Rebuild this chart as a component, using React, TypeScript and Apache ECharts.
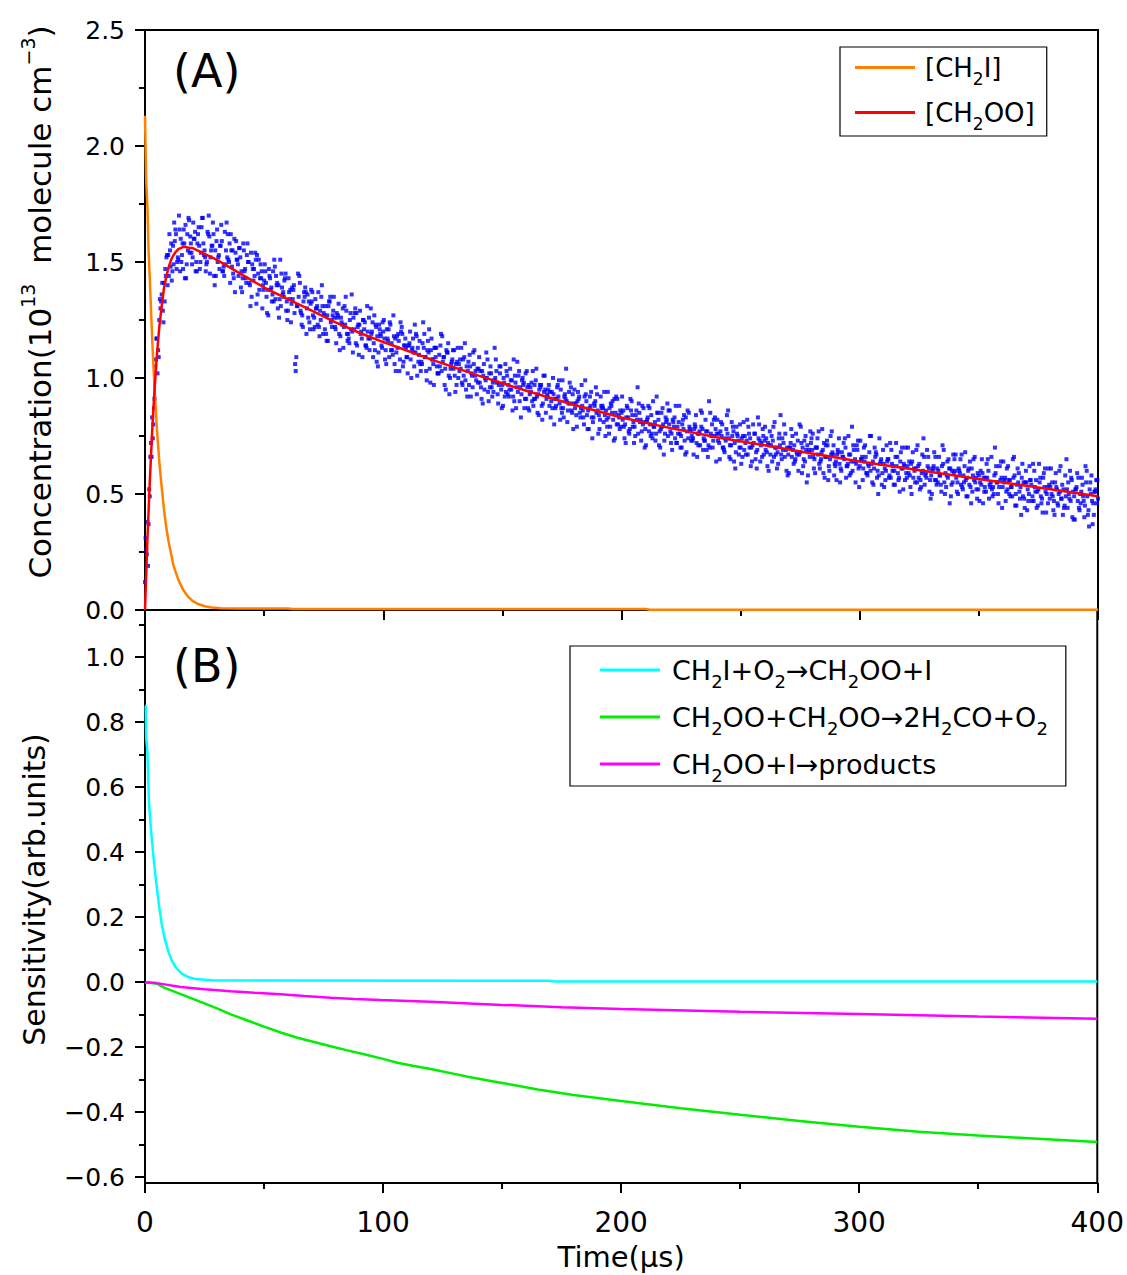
import React, { useEffect, useRef } from "react";
import * as echarts from "echarts";

const FONT = '"DejaVu Sans", "Liberation Sans", Arial, sans-serif';

// ---------- Panel A: measured CH2OO signal (blue squares) ----------
// values at t = 0,1,2,...,400 µs
const signalA = [
  0.12, 0.38, 0.49, 0.83, 0.91, 1.17, 1.25, 1.36, 1.41, 1.52,
  1.44, 1.58, 1.49, 1.62, 1.51, 1.60, 1.47, 1.66, 1.55, 1.61,
  1.52, 1.63, 1.58, 1.47, 1.69, 1.55, 1.50, 1.61, 1.57, 1.44,
  1.59, 1.53, 1.66, 1.48, 1.55, 1.51, 1.62, 1.45, 1.54, 1.49,
  1.52, 1.43, 1.47, 1.58, 1.40, 1.49, 1.44, 1.53, 1.38, 1.46,
  1.42, 1.35, 1.47, 1.39, 1.33, 1.44, 1.40, 1.31, 1.37, 1.45,
  1.29, 1.38, 1.34, 1.06, 1.31, 1.41, 1.27, 1.35, 1.30, 1.24,
  1.33, 1.26, 1.30, 1.22, 1.35, 1.28, 1.19, 1.31, 1.24, 1.29,
  1.21, 1.27, 1.18, 1.30, 1.23, 1.16, 1.25, 1.20, 1.28, 1.14,
  1.23, 1.17, 1.21, 1.13, 1.26, 1.19, 1.15, 1.22, 1.11, 1.18,
  1.20, 1.12, 1.16, 1.23, 1.10, 1.17, 1.13, 1.08, 1.19, 1.14,
  1.09, 1.15, 1.12, 1.05, 1.18, 1.10, 1.07, 1.13, 1.03, 1.11,
  1.12, 1.06, 1.09, 1.02, 1.14, 1.07, 1.04, 1.11, 1.00, 1.08,
  1.01, 1.07, 1.03, 0.98, 1.09, 1.05, 0.97, 1.02, 1.06, 0.99,
  1.04, 0.96, 1.01, 0.99, 0.94, 1.05, 0.98, 1.00, 0.93, 1.02,
  0.97, 0.92, 1.01, 0.95, 0.99, 0.90, 0.96, 1.03, 0.93, 0.98,
  0.91, 0.97, 0.94, 0.88, 0.99, 0.93, 0.96, 0.89, 0.95, 0.92,
  0.94, 0.87, 0.91, 0.96, 0.89, 0.85, 0.92, 0.90, 0.94, 0.86,
  0.89, 0.84, 0.91, 0.87, 0.83, 0.93, 0.86, 0.88, 0.81, 0.90,
  0.86, 0.82, 0.88, 0.84, 0.79, 0.87, 0.85, 0.91, 0.80, 0.83,
  0.85, 0.79, 0.83, 0.77, 0.86, 0.81, 0.84, 0.76, 0.82, 0.80,
  0.78, 0.83, 0.80, 0.74, 0.81, 0.85, 0.77, 0.79, 0.73, 0.82,
  0.80, 0.76, 0.79, 0.72, 0.81, 0.75, 0.78, 0.83, 0.74, 0.77,
  0.74, 0.79, 0.76, 0.71, 0.78, 0.73, 0.77, 0.70, 0.80, 0.75,
  0.76, 0.72, 0.75, 0.69, 0.78, 0.74, 0.71, 0.77, 0.68, 0.73,
  0.70, 0.75, 0.72, 0.67, 0.74, 0.71, 0.76, 0.69, 0.73, 0.66,
  0.73, 0.68, 0.71, 0.75, 0.66, 0.70, 0.74, 0.67, 0.72, 0.69,
  0.67, 0.72, 0.69, 0.65, 0.73, 0.68, 0.70, 0.64, 0.71, 0.66,
  0.69, 0.65, 0.70, 0.63, 0.68, 0.72, 0.66, 0.62, 0.67, 0.71,
  0.64, 0.68, 0.61, 0.66, 0.70, 0.63, 0.67, 0.60, 0.65, 0.69,
  0.62, 0.66, 0.64, 0.59, 0.68, 0.63, 0.61, 0.67, 0.58, 0.65,
  0.63, 0.60, 0.65, 0.57, 0.62, 0.66, 0.59, 0.64, 0.61, 0.56,
  0.62, 0.58, 0.64, 0.60, 0.55, 0.63, 0.59, 0.66, 0.57, 0.61,
  0.58, 0.62, 0.56, 0.60, 0.54, 0.63, 0.59, 0.57, 0.61, 0.55,
  0.60, 0.55, 0.59, 0.53, 0.62, 0.57, 0.54, 0.61, 0.56, 0.52,
  0.58, 0.54, 0.57, 0.51, 0.60, 0.55, 0.53, 0.59, 0.50, 0.56,
  0.53, 0.57, 0.52, 0.56, 0.49, 0.58, 0.54, 0.51, 0.57, 0.48,
  0.55, 0.50, 0.54, 0.47, 0.56, 0.52, 0.49, 0.57, 0.51, 0.46,
  0.53, 0.49, 0.55, 0.46, 0.51, 0.54, 0.45, 0.52, 0.48, 0.56,
  0.49, 0.53, 0.44, 0.51, 0.47, 0.55, 0.43, 0.50, 0.46, 0.52,
  0.48,
];
// values at t = 0.5, 1.5, ..., 399.5 µs
const signalB = [
  0.26, 0.37, 0.72, 0.80, 1.08, 1.12, 1.30, 1.29, 1.47, 1.40,
  1.55, 1.46, 1.59, 1.50, 1.64, 1.53, 1.58, 1.49, 1.68, 1.54,
  1.60, 1.50, 1.65, 1.54, 1.58, 1.46, 1.62, 1.52, 1.67, 1.55,
  1.50, 1.57, 1.46, 1.63, 1.52, 1.58, 1.48, 1.60, 1.51, 1.56,
  1.46, 1.55, 1.41, 1.50, 1.54, 1.42, 1.51, 1.45, 1.49, 1.40,
  1.46, 1.38, 1.43, 1.36, 1.48, 1.41, 1.34, 1.39, 1.42, 1.33,
  1.37, 1.32, 1.40, 1.09, 1.35, 1.28, 1.33, 1.37, 1.26, 1.32,
  1.27, 1.34, 1.23, 1.29, 1.31, 1.21, 1.27, 1.33, 1.22, 1.26,
  1.28, 1.19, 1.24, 1.22, 1.29, 1.17, 1.21, 1.26, 1.15, 1.23,
  1.19, 1.25, 1.14, 1.20, 1.17, 1.24, 1.12, 1.18, 1.21, 1.13,
  1.17, 1.21, 1.09, 1.15, 1.18, 1.11, 1.16, 1.20, 1.07, 1.13,
  1.14, 1.08, 1.17, 1.11, 1.13, 1.06, 1.15, 1.09, 1.12, 1.04,
  1.08, 1.13, 1.05, 1.10, 1.03, 1.09, 1.12, 1.01, 1.06, 1.04,
  1.06, 1.00, 1.04, 1.08, 0.99, 1.03, 1.05, 0.96, 1.01, 1.04,
  0.98, 1.03, 0.95, 1.00, 1.02, 0.96, 0.99, 1.03, 0.97, 0.95,
  1.00, 0.94, 0.97, 0.99, 0.92, 0.98, 0.94, 0.96, 1.00, 0.91,
  0.96, 0.93, 0.90, 0.97, 0.92, 0.95, 0.88, 0.94, 0.91, 0.97,
  0.90, 0.93, 0.88, 0.92, 0.95, 0.87, 0.91, 0.86, 0.89, 0.93,
  0.87, 0.90, 0.85, 0.88, 0.92, 0.84, 0.87, 0.83, 0.89, 0.85,
  0.84, 0.88, 0.81, 0.86, 0.83, 0.89, 0.82, 0.85, 0.80, 0.86,
  0.82, 0.80, 0.87, 0.78, 0.84, 0.79, 0.82, 0.85, 0.77, 0.81,
  0.81, 0.77, 0.84, 0.79, 0.76, 0.82, 0.78, 0.80, 0.83, 0.75,
  0.77, 0.82, 0.74, 0.79, 0.76, 0.80, 0.73, 0.77, 0.79, 0.75,
  0.78, 0.72, 0.76, 0.79, 0.74, 0.77, 0.71, 0.76, 0.73, 0.78,
  0.73, 0.77, 0.70, 0.74, 0.76, 0.71, 0.75, 0.72, 0.76, 0.70,
  0.74, 0.69, 0.73, 0.76, 0.70, 0.72, 0.68, 0.74, 0.71, 0.75,
  0.69, 0.72, 0.67, 0.73, 0.70, 0.68, 0.71, 0.74, 0.66, 0.70,
  0.70, 0.66, 0.71, 0.68, 0.67, 0.72, 0.65, 0.69, 0.68, 0.72,
  0.66, 0.70, 0.67, 0.64, 0.69, 0.66, 0.71, 0.65, 0.68, 0.63,
  0.67, 0.63, 0.68, 0.65, 0.62, 0.67, 0.64, 0.69, 0.63, 0.61,
  0.65, 0.61, 0.66, 0.63, 0.60, 0.64, 0.66, 0.60, 0.63, 0.59,
  0.61, 0.64, 0.58, 0.63, 0.60, 0.62, 0.57, 0.61, 0.63, 0.59,
  0.59, 0.63, 0.57, 0.61, 0.62, 0.56, 0.60, 0.58, 0.62, 0.56,
  0.60, 0.56, 0.61, 0.58, 0.62, 0.55, 0.58, 0.61, 0.54, 0.59,
  0.57, 0.61, 0.54, 0.58, 0.56, 0.60, 0.53, 0.58, 0.55, 0.59,
  0.55, 0.59, 0.53, 0.57, 0.54, 0.52, 0.58, 0.55, 0.53, 0.57,
  0.55, 0.51, 0.56, 0.53, 0.57, 0.50, 0.55, 0.53, 0.49, 0.55,
  0.52, 0.56, 0.49, 0.53, 0.51, 0.55, 0.48, 0.53, 0.50, 0.54,
  0.50, 0.47, 0.53, 0.50, 0.48, 0.52, 0.49, 0.55, 0.47, 0.51,
  0.52, 0.47, 0.50, 0.54, 0.45, 0.49, 0.52, 0.47, 0.51, 0.46,
];
// values at t = 0.25, 1.25, ..., 399.25 µs
const signalC = [
  0.31, 0.19, 0.66, 0.74, 1.05, 1.02, 1.34, 1.41, 1.33, 1.53,
  1.62, 1.42, 1.67, 1.47, 1.70, 1.50, 1.64, 1.43, 1.69, 1.58,
  1.67, 1.46, 1.62, 1.50, 1.69, 1.52, 1.63, 1.45, 1.57, 1.40,
  1.64, 1.47, 1.59, 1.44, 1.67, 1.50, 1.55, 1.43, 1.59, 1.44,
  1.39, 1.58, 1.43, 1.50, 1.31, 1.47, 1.54, 1.36, 1.43, 1.30,
  1.49, 1.28, 1.44, 1.33, 1.51, 1.40, 1.26, 1.45, 1.35, 1.29,
  1.43, 1.24, 1.38, 1.03, 1.45, 1.29, 1.22, 1.39, 1.36, 1.21,
  1.37, 1.22, 1.31, 1.18, 1.40, 1.27, 1.16, 1.33, 1.25, 1.35,
  1.15, 1.32, 1.26, 1.13, 1.35, 1.19, 1.28, 1.11, 1.30, 1.22,
  1.29, 1.09, 1.24, 1.31, 1.12, 1.20, 1.27, 1.07, 1.23, 1.14,
  1.25, 1.06, 1.21, 1.12, 1.27, 1.03, 1.19, 1.24, 1.05, 1.17,
  1.02, 1.20, 1.13, 1.23, 1.01, 1.16, 1.06, 1.19, 0.99, 1.21,
  1.17, 0.97, 1.13, 1.02, 1.19, 1.09, 0.95, 1.15, 1.04, 1.12,
  0.94, 1.13, 1.08, 0.97, 1.15, 0.92, 1.10, 1.01, 1.12, 0.93,
  1.09, 0.91, 1.06, 1.11, 0.90, 1.02, 0.94, 1.08, 0.89, 1.05,
  0.88, 1.06, 0.93, 1.04, 0.86, 1.01, 1.07, 0.90, 0.99, 0.87,
  1.03, 0.86, 0.98, 0.91, 1.04, 0.84, 0.97, 1.01, 0.85, 0.95,
  0.83, 1.00, 0.87, 0.97, 0.82, 0.99, 0.93, 0.81, 0.98, 0.85,
  0.95, 0.79, 0.92, 0.97, 0.80, 0.90, 0.78, 0.94, 0.83, 0.96,
  0.76, 0.92, 0.87, 0.75, 0.94, 0.79, 0.90, 0.74, 0.91, 0.78,
  0.92, 0.74, 0.88, 0.76, 0.90, 0.72, 0.86, 0.89, 0.73, 0.87,
  0.71, 0.88, 0.75, 0.90, 0.73, 0.85, 0.70, 0.87, 0.76, 0.89,
  0.86, 0.69, 0.83, 0.72, 0.88, 0.70, 0.84, 0.68, 0.85, 0.73,
  0.67, 0.84, 0.71, 0.86, 0.69, 0.82, 0.66, 0.85, 0.70, 0.83,
  0.82, 0.65, 0.80, 0.68, 0.84, 0.66, 0.81, 0.64, 0.79, 0.67,
  0.63, 0.81, 0.67, 0.79, 0.62, 0.80, 0.65, 0.83, 0.64, 0.78,
  0.79, 0.62, 0.77, 0.64, 0.81, 0.61, 0.76, 0.65, 0.80, 0.60,
  0.59, 0.78, 0.63, 0.76, 0.60, 0.79, 0.62, 0.75, 0.58, 0.77,
  0.76, 0.59, 0.74, 0.61, 0.78, 0.57, 0.73, 0.60, 0.77, 0.58,
  0.56, 0.74, 0.60, 0.72, 0.57, 0.75, 0.59, 0.71, 0.55, 0.73,
  0.73, 0.56, 0.71, 0.58, 0.75, 0.55, 0.70, 0.57, 0.74, 0.54,
  0.53, 0.71, 0.57, 0.69, 0.54, 0.72, 0.56, 0.68, 0.52, 0.70,
  0.70, 0.53, 0.68, 0.55, 0.71, 0.52, 0.67, 0.54, 0.69, 0.51,
  0.50, 0.68, 0.54, 0.66, 0.51, 0.69, 0.53, 0.65, 0.49, 0.67,
  0.67, 0.50, 0.65, 0.52, 0.68, 0.49, 0.64, 0.51, 0.66, 0.48,
  0.47, 0.65, 0.51, 0.63, 0.48, 0.66, 0.50, 0.62, 0.46, 0.64,
  0.64, 0.47, 0.62, 0.49, 0.65, 0.45, 0.61, 0.48, 0.63, 0.44,
  0.43, 0.62, 0.47, 0.60, 0.44, 0.63, 0.46, 0.59, 0.42, 0.61,
  0.61, 0.43, 0.59, 0.45, 0.62, 0.41, 0.58, 0.44, 0.60, 0.40,
  0.39, 0.59, 0.43, 0.57, 0.40, 0.60, 0.36, 0.58, 0.41, 0.56,
];
// values at t = 0.75, 1.75, ..., 399.75 µs
const signalD = [
  0.24, 0.52, 0.66, 0.87, 1.17, 1.09, 1.33, 1.24, 1.44, 1.53,
  1.48, 1.57, 1.64, 1.52, 1.46, 1.58, 1.43, 1.62, 1.54, 1.49,
  1.60, 1.46, 1.57, 1.65, 1.53, 1.49, 1.70, 1.55, 1.62, 1.44,
  1.52, 1.57, 1.46, 1.49, 1.62, 1.41, 1.55, 1.37, 1.51, 1.56,
  1.37, 1.46, 1.53, 1.41, 1.35, 1.47, 1.32, 1.51, 1.43, 1.38,
  1.41, 1.27, 1.38, 1.46, 1.34, 1.30, 1.51, 1.36, 1.43, 1.25,
  1.34, 1.39, 1.28, 1.31, 1.44, 1.23, 1.37, 1.19, 1.33, 1.38,
  1.21, 1.30, 1.37, 1.25, 1.19, 1.31, 1.16, 1.35, 1.27, 1.22,
  1.26, 1.12, 1.23, 1.31, 1.19, 1.15, 1.36, 1.21, 1.28, 1.10,
  1.20, 1.25, 1.14, 1.17, 1.30, 1.09, 1.23, 1.05, 1.19, 1.24,
  1.08, 1.17, 1.24, 1.12, 1.06, 1.18, 1.03, 1.22, 1.14, 1.09,
  1.14, 1.00, 1.11, 1.19, 1.07, 1.03, 1.24, 1.09, 1.16, 0.98,
  1.08, 1.13, 1.02, 1.05, 1.18, 0.97, 1.11, 0.93, 1.07, 1.12,
  0.97, 1.06, 1.13, 1.01, 0.95, 1.07, 0.92, 1.11, 1.03, 0.98,
  1.03, 0.89, 1.00, 1.08, 0.96, 0.92, 1.13, 0.98, 1.05, 0.87,
  0.98, 1.03, 0.92, 0.95, 1.08, 0.87, 1.01, 0.83, 0.97, 1.02,
  0.87, 0.96, 1.03, 0.91, 0.85, 0.97, 0.82, 1.01, 0.93, 0.88,
  0.94, 0.80, 0.91, 0.99, 0.87, 0.83, 1.04, 0.89, 0.96, 0.78,
  0.89, 0.94, 0.83, 0.86, 0.99, 0.78, 0.92, 0.74, 0.88, 0.93,
  0.78, 0.87, 0.94, 0.82, 0.76, 0.88, 0.73, 0.92, 0.84, 0.79,
  0.86, 0.72, 0.83, 0.91, 0.79, 0.75, 0.96, 0.81, 0.88, 0.70,
  0.82, 0.87, 0.76, 0.79, 0.92, 0.71, 0.85, 0.67, 0.81, 0.86,
  0.72, 0.81, 0.88, 0.76, 0.70, 0.82, 0.67, 0.86, 0.78, 0.73,
  0.80, 0.66, 0.77, 0.85, 0.73, 0.69, 0.90, 0.75, 0.82, 0.64,
  0.76, 0.81, 0.70, 0.73, 0.86, 0.65, 0.79, 0.61, 0.75, 0.80,
  0.66, 0.75, 0.82, 0.70, 0.64, 0.76, 0.61, 0.80, 0.72, 0.67,
  0.74, 0.60, 0.71, 0.79, 0.67, 0.63, 0.84, 0.69, 0.76, 0.58,
  0.70, 0.75, 0.64, 0.67, 0.80, 0.59, 0.73, 0.55, 0.69, 0.74,
  0.61, 0.70, 0.77, 0.65, 0.59, 0.71, 0.56, 0.75, 0.67, 0.62,
  0.69, 0.55, 0.66, 0.74, 0.62, 0.58, 0.79, 0.64, 0.71, 0.53,
  0.65, 0.70, 0.59, 0.62, 0.75, 0.54, 0.68, 0.50, 0.64, 0.69,
  0.56, 0.65, 0.72, 0.60, 0.54, 0.66, 0.51, 0.70, 0.62, 0.57,
  0.64, 0.50, 0.61, 0.69, 0.57, 0.53, 0.74, 0.59, 0.66, 0.48,
  0.61, 0.66, 0.55, 0.58, 0.71, 0.50, 0.64, 0.46, 0.60, 0.65,
  0.51, 0.60, 0.67, 0.55, 0.49, 0.61, 0.46, 0.65, 0.57, 0.52,
  0.60, 0.46, 0.57, 0.65, 0.53, 0.49, 0.70, 0.55, 0.62, 0.44,
  0.56, 0.61, 0.50, 0.53, 0.66, 0.45, 0.59, 0.41, 0.55, 0.60,
  0.47, 0.56, 0.63, 0.51, 0.45, 0.57, 0.42, 0.61, 0.53, 0.48,
  0.55, 0.41, 0.52, 0.60, 0.48, 0.44, 0.65, 0.50, 0.57, 0.39,
  0.52, 0.57, 0.46, 0.49, 0.62, 0.41, 0.55, 0.37, 0.51, 0.56,
];

// ---------- Panel A: model curves ----------
const ch2iTime = [0, 0.5, 1, 1.5, 2, 2.5, 3, 3.5, 4, 5, 6, 7, 8, 9, 10, 12, 14, 16, 18, 20, 22, 25, 28, 32, 40, 60, 62, 210, 212, 400];
const ch2iConc = [2.13, 1.85, 1.74, 1.55, 1.43, 1.3, 1.17, 1.06, 0.96, 0.78, 0.64, 0.53, 0.43, 0.35, 0.29, 0.19, 0.13, 0.087, 0.058, 0.039, 0.027, 0.016, 0.011, 0.008, 0.006, 0.006, 0.004, 0.004, 0.001, 0.001];

const ch2ooTime = [0, 1, 2, 3, 4, 5, 6, 7, 8, 9, 10, 11, 12, 13, 14, 15, 16, 17, 18, 19, 20, 25, 30, 35, 40, 50, 60, 70, 80, 90, 100, 120, 140, 160, 180, 200, 220, 240, 260, 280, 300, 320, 340, 360, 380, 400];
const ch2ooConc = [0, 0.3, 0.55, 0.77, 0.95, 1.1, 1.22, 1.31, 1.39, 1.44, 1.48, 1.51, 1.53, 1.545, 1.555, 1.56, 1.565, 1.565, 1.563, 1.56, 1.56, 1.535, 1.51, 1.48, 1.45, 1.39, 1.34, 1.29, 1.24, 1.195, 1.155, 1.08, 1.01, 0.945, 0.885, 0.83, 0.785, 0.745, 0.71, 0.675, 0.64, 0.61, 0.58, 0.55, 0.52, 0.49];

// ---------- Panel B: sensitivities ----------
const r1Time = [0, 0.3, 0.5, 1, 1.7, 2.5, 3.5, 4.5, 5.9, 7, 8.4, 10, 11.2, 13, 15.4, 18, 21, 28, 40, 170, 172, 400];
const r1Sens = [0.85, 0.85, 0.75, 0.71, 0.55, 0.47, 0.39, 0.32, 0.235, 0.18, 0.13, 0.09, 0.067, 0.045, 0.026, 0.016, 0.01, 0.006, 0.005, 0.004, 0.002, 0.002];

const r2Time = [0, 5, 8, 15, 22, 30, 36, 43, 50, 57, 64, 71, 78, 85, 92, 100, 106, 113, 120, 135, 150, 165, 180, 200, 225, 250, 275, 300, 325, 350, 375, 400];
const r2Sens = [0, -0.005, -0.017, -0.037, -0.057, -0.08, -0.099, -0.118, -0.137, -0.155, -0.171, -0.184, -0.197, -0.21, -0.222, -0.236, -0.248, -0.258, -0.267, -0.29, -0.31, -0.33, -0.347, -0.366, -0.388, -0.408, -0.427, -0.445, -0.46, -0.472, -0.482, -0.492];

const r3Time = [0, 5, 15, 25, 36, 46, 57, 67, 78, 88, 99, 120, 150, 175, 200, 250, 300, 350, 400];
const r3Sens = [0, -0.003, -0.015, -0.022, -0.028, -0.033, -0.037, -0.043, -0.048, -0.052, -0.055, -0.06, -0.07, -0.077, -0.083, -0.091, -0.098, -0.106, -0.113];

// ---------- axis ticks ----------
const sensMajorTicks = [-0.6, -0.4, -0.2, 0, 0.2, 0.4, 0.6, 0.8, 1.0];
const sensMinorTicks = [-0.5, -0.3, -0.1, 0.1, 0.3, 0.5, 0.7, 0.9, 1.1];

const topSeriesNames = ["CH2I", "CH2OO"];
const bottomSeriesNames = ["R1", "R2", "R3"];

const legendRich: Record<string, string> = {
  CH2I: "{g|}{t|[CH}{s|2}{t|I]}",
  CH2OO: "{g|}{t|[CH}{s|2}{t|OO]}",
  R1: "{g|}{t|CH}{s|2}{t|I+O}{s|2}{t|\u2192CH}{s|2}{t|OO+I}",
  R2: "{g|}{t|CH}{s|2}{t|OO+CH}{s|2}{t|OO\u21922H}{s|2}{t|CO+O}{s|2}",
  R3: "{g|}{t|CH}{s|2}{t|OO+I\u2192products}",
};

const zip = (xs: number[], ys: number[]) => xs.map((x, i) => [x, ys[i]]);

const axisBlack = { color: "#000", width: 2 };

export default function App() {
  const ref = useRef<HTMLDivElement>(null);

  useEffect(() => {
    document.body.style.margin = "0";
    if (!ref.current) return;
    const chart = echarts.init(ref.current, undefined, { renderer: "svg" });

    const scatterData: number[][] = [];
    signalA.forEach((v, i) => scatterData.push([i, v]));
    signalC.forEach((v, i) => scatterData.push([i + 0.25, v]));
    signalB.forEach((v, i) => scatterData.push([i + 0.5, v]));
    signalD.forEach((v, i) => scatterData.push([i + 0.75, v]));

    const fmtSigned = (v: number) =>
      v < 0 ? "\u2212" + Math.abs(v).toFixed(1) : v.toFixed(1);

    const xBase = (grid: number, labels: boolean) => ({
      type: "value",
      gridIndex: grid,
      min: 0,
      max: 400,
      interval: 100,
      axisLine: { show: true, onZero: false, lineStyle: axisBlack },
      axisTick: { show: true, inside: false, length: 10, lineStyle: axisBlack },
      minorTick: { show: true, splitNumber: 2, length: 6, lineStyle: axisBlack },
      splitLine: { show: false },
      minorSplitLine: { show: false },
      axisLabel: {
        show: labels,
        fontSize: 28,
        fontFamily: FONT,
        color: "#000",
        margin: 25,
      },
    });

    const legendTextStyle = (size: number, sub: number, gap: number) => ({
      fontFamily: FONT,
      fontSize: size,
      color: "#000",
      lineHeight: 36,
      rich: {
        g: { width: gap, lineHeight: 36 },
        t: { fontFamily: FONT, fontSize: size, lineHeight: 36, verticalAlign: "middle", color: "#000" },
        s: { fontFamily: FONT, fontSize: sub, lineHeight: 36, verticalAlign: "middle", padding: [22, 0, 0, 0], color: "#000" },
      },
    });

    const option: any = {
      animation: false,
      backgroundColor: "#fff",
      textStyle: { fontFamily: FONT, color: "#000" },
      grid: [
        { left: 145, top: 30, width: 953, height: 580, show: true, borderColor: "#000", borderWidth: 2, backgroundColor: "transparent" },
        { left: 145, top: 610, width: 953, height: 573, show: true, borderColor: "#000", borderWidth: 2, backgroundColor: "transparent" },
      ],
      xAxis: [
        xBase(0, false),
        {
          ...xBase(1, true),
          name: "Time(\u03bcs)",
          nameLocation: "middle",
          nameGap: 59,
          nameTextStyle: { fontSize: 29, fontFamily: FONT, color: "#000" },
        },
      ],
      yAxis: [
        {
          type: "value",
          gridIndex: 0,
          min: 0,
          max: 2.5,
          interval: 0.5,
          axisLine: { show: true, onZero: false, lineStyle: axisBlack },
          axisTick: { show: true, inside: false, length: 10, lineStyle: axisBlack },
          minorTick: { show: true, splitNumber: 2, length: 6, lineStyle: axisBlack },
          splitLine: { show: false },
          minorSplitLine: { show: false },
          axisLabel: {
            fontSize: 25,
            fontFamily: FONT,
            color: "#000",
            margin: 20,
            formatter: (v: number) => v.toFixed(1),
          },
          name: "{t|Concentration(10}{p|13}{t|  molecule cm}{p|\u22123}{t|)}",
          nameLocation: "middle",
          nameGap: 86,
          nameTextStyle: {
            fontFamily: FONT,
            fontSize: 31,
            color: "#000",
            padding: [0, 0, 0, 36],
            rich: {
              t: { fontFamily: FONT, fontSize: 31, lineHeight: 38, verticalAlign: "middle", color: "#000" },
              p: { fontFamily: FONT, fontSize: 19, lineHeight: 38, verticalAlign: "middle", padding: [0, 0, 24, 0], color: "#000" },
            },
          },
        },
        {
          type: "value",
          gridIndex: 1,
          min: -0.618,
          max: 1.145,
          position: "left",
          axisLine: { show: true, onZero: false, lineStyle: axisBlack },
          axisTick: { show: true, inside: false, length: 10, lineStyle: axisBlack, customValues: sensMajorTicks },
          splitLine: { show: false },
          axisLabel: {
            fontSize: 25,
            fontFamily: FONT,
            color: "#000",
            margin: 20,
            customValues: sensMajorTicks,
            formatter: (v: number) => fmtSigned(v),
          },
          name: "Sensitivity(arb.units)",
          nameLocation: "middle",
          nameGap: 86,
          nameTextStyle: { fontFamily: FONT, fontSize: 30, color: "#000", lineHeight: 38, padding: [0, 0, 0, 14] },
        },
        {
          type: "value",
          gridIndex: 1,
          min: -0.618,
          max: 1.145,
          position: "left",
          axisLine: { show: false },
          axisTick: { show: true, inside: false, length: 6, lineStyle: axisBlack, customValues: sensMinorTicks },
          splitLine: { show: false },
          axisLabel: { show: false },
        },
      ],
      legend: [
        {
          data: topSeriesNames,
          orient: "vertical",
          left: 840,
          top: 47,
          padding: [1, 12, 4, 15],
          itemGap: 6,
          itemWidth: 60,
          itemHeight: 3,
          icon: "rect",
          selectedMode: false,
          borderColor: "#000",
          borderWidth: 1.2,
          backgroundColor: "#fff",
          formatter: (name: string) => legendRich[name],
          textStyle: legendTextStyle(26, 17, 5),
        },
        {
          data: bottomSeriesNames,
          orient: "vertical",
          left: 570,
          top: 646,
          padding: [4, 18, 2, 30],
          itemGap: 7,
          itemWidth: 60,
          itemHeight: 3,
          icon: "rect",
          selectedMode: false,
          borderColor: "#000",
          borderWidth: 1.2,
          backgroundColor: "#fff",
          formatter: (name: string) => legendRich[name],
          textStyle: legendTextStyle(27, 18, 7),
        },
      ],
      graphic: [
        { type: "text", left: 173, top: 48, style: { text: "(A)", font: `46px ${FONT}`, fill: "#000" } },
        { type: "text", left: 173, top: 643, style: { text: "(B)", font: `46px ${FONT}`, fill: "#000" } },
      ],
      series: [
        {
          name: "signal",
          type: "scatter",
          xAxisIndex: 0,
          yAxisIndex: 0,
          symbol: "rect",
          symbolSize: [4, 4],
          itemStyle: { color: "#0000ff" },
          data: scatterData,
          z: 1,
          silent: true,
        },
        {
          name: "CH2I",
          type: "line",
          xAxisIndex: 0,
          yAxisIndex: 0,
          symbol: "none",
          showSymbol: false,
          color: "#ff8000",
          itemStyle: { color: "#ff8000" },
          lineStyle: { color: "#ff8000", width: 2.5 },
          data: zip(ch2iTime, ch2iConc),
          z: 3,
        },
        {
          name: "CH2OO",
          type: "line",
          xAxisIndex: 0,
          yAxisIndex: 0,
          symbol: "none",
          showSymbol: false,
          color: "#ff0000",
          itemStyle: { color: "#ff0000" },
          lineStyle: { color: "#ff0000", width: 2.5 },
          data: zip(ch2ooTime, ch2ooConc),
          z: 4,
        },
        {
          name: "R1",
          type: "line",
          xAxisIndex: 1,
          yAxisIndex: 1,
          symbol: "none",
          showSymbol: false,
          color: "#00ffff",
          itemStyle: { color: "#00ffff" },
          lineStyle: { color: "#00ffff", width: 2.5 },
          data: zip(r1Time, r1Sens),
        },
        {
          name: "R2",
          type: "line",
          xAxisIndex: 1,
          yAxisIndex: 1,
          symbol: "none",
          showSymbol: false,
          color: "#00ee00",
          itemStyle: { color: "#00ee00" },
          lineStyle: { color: "#00ee00", width: 2.5 },
          data: zip(r2Time, r2Sens),
        },
        {
          name: "R3",
          type: "line",
          xAxisIndex: 1,
          yAxisIndex: 1,
          symbol: "none",
          showSymbol: false,
          color: "#ff00ff",
          itemStyle: { color: "#ff00ff" },
          lineStyle: { color: "#ff00ff", width: 2.5 },
          data: zip(r3Time, r3Sens),
        },
      ],
    };

    chart.setOption(option);
    return () => chart.dispose();
  }, []);

  return <div ref={ref} style={{ width: 1127, height: 1275 }} />;
}
